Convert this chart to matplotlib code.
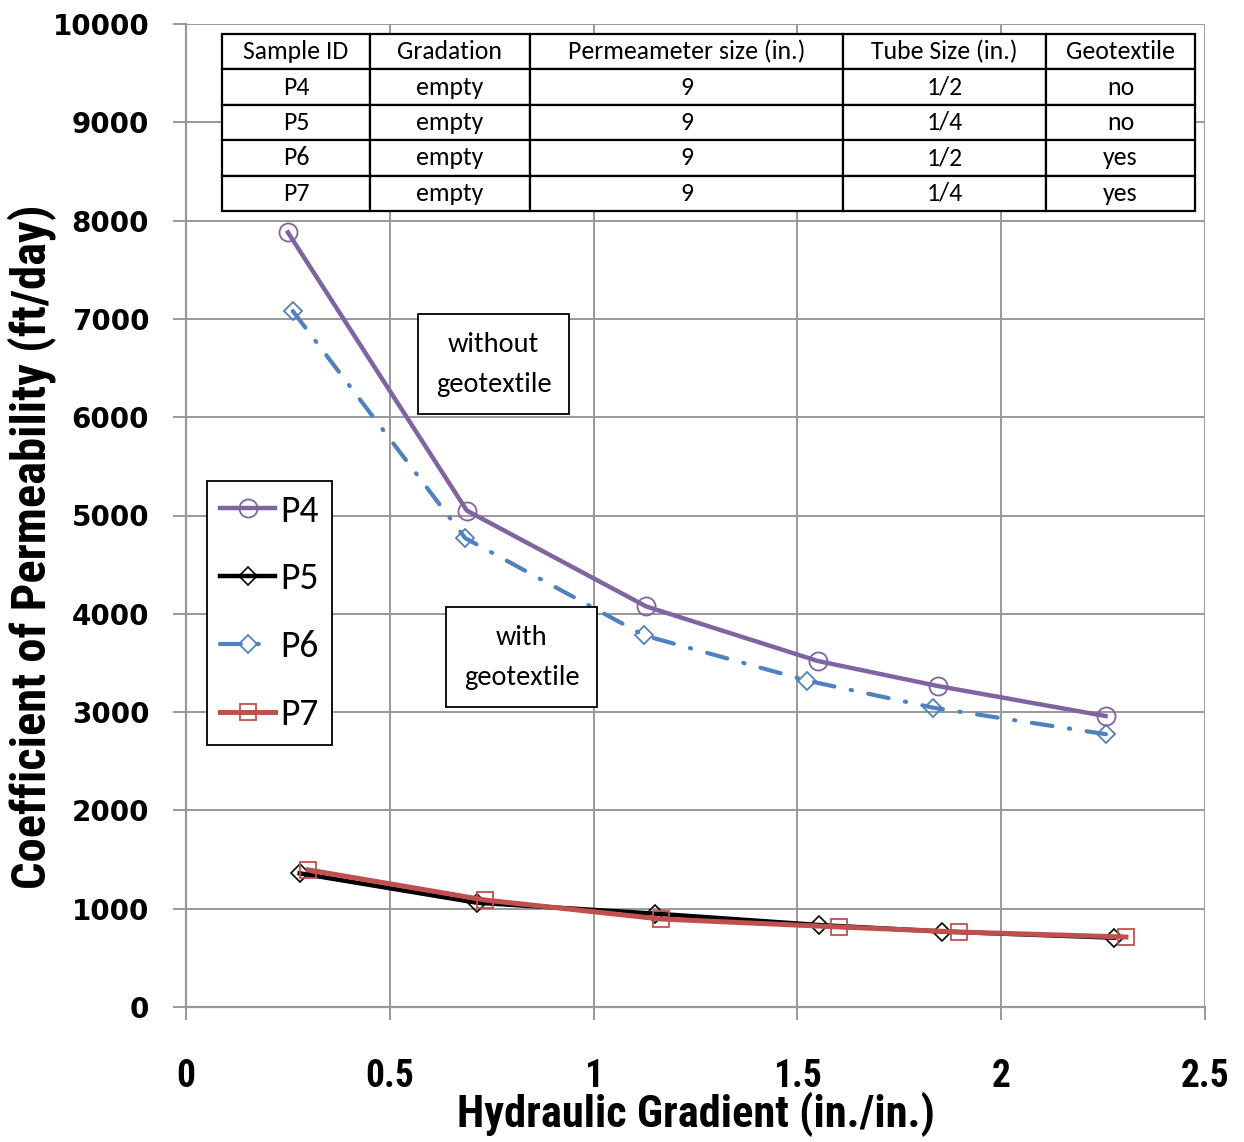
import matplotlib
matplotlib.use('Agg')
import matplotlib.pyplot as plt
from matplotlib import font_manager

# data
p4_x = [0.250, 0.689, 1.129, 1.550, 1.845, 2.256]
p4_y = [7880, 5050, 4075, 3520, 3265, 2960]
p5_x = [0.279, 0.715, 1.151, 1.553, 1.855, 2.277]
p5_y = [1360, 1060, 950, 834, 768, 705]
p6_x = [0.262, 0.685, 1.124, 1.524, 1.833, 2.257]
p6_y = [7080, 4770, 3780, 3320, 3045, 2775]
p7_x = [0.300, 0.734, 1.165, 1.602, 1.897, 2.306]
p7_y = [1395, 1088, 895, 814, 763, 712]

table_cols = ['Sample ID', 'Gradation', 'Permeameter size (in.)', 'Tube Size (in.)', 'Geotextile']
table_rows = [
    ['P4', 'empty', '9', '1/2', 'no'],
    ['P5', 'empty', '9', '1/4', 'no'],
    ['P6', 'empty', '9', '1/2', 'yes'],
    ['P7', 'empty', '9', '1/4', 'yes'],
]
col_widths = [148, 160, 313, 203, 149]

x_ticks = [0, 0.5, 1, 1.5, 2, 2.5]
x_ticklabels = ['0', '0.5', '1', '1.5', '2', '2.5']
y_ticks = list(range(0, 10001, 1000))


def pick_font(*names):
    installed = {f.name for f in font_manager.fontManager.ttflist}
    for name in names:
        if name in installed:
            return name
    return 'DejaVu Sans'


body_font = pick_font('Carlito', 'Lato', 'Open Sans')
narrow_font = pick_font('Liberation Sans Narrow', 'Roboto Condensed', 'Open Sans Condensed',
                        'Carlito', 'Lato')

grid_grey = '#999999'

fig = plt.figure(figsize=(12.44, 11.42), dpi=100)
ax = fig.add_axes([186 / 1244, 1 - 1007 / 1142, 1019 / 1244, 983 / 1142])

ax.plot(p6_x, p6_y, color='#4F81BD', lw=3, linestyle=(0, (5, 4, 0.3, 4)),
        dash_capstyle='round', marker='D', markersize=9, mfc='none', mec='#4F81BD',
        mew=1.3, label='P6', zorder=3)
ax.plot(p4_x, p4_y, color='#8064A2', lw=3.2, marker='o', markersize=13, mfc='none',
        mec='#8064A2', mew=1.3, label='P4', zorder=4)
ax.plot(p5_x, p5_y, color='black', lw=3.2, marker='D', markersize=9, mfc='none',
        mec='black', mew=1.2, label='P5', zorder=3)
ax.plot(p7_x, p7_y, color='#C0504D', lw=3.6, marker='s', markersize=11, mfc='none',
        mec='#C0504D', mew=1.3, label='P7', zorder=4)

ax.set_xlim(0, 2.5)
ax.set_ylim(0, 10000)
ax.set_xticks(x_ticks)
ax.set_xticklabels(x_ticklabels)
ax.set_yticks(y_ticks)
ax.grid(True, color=grid_grey, lw=1.4)
ax.set_axisbelow(True)
for side in ['top', 'right']:
    ax.spines[side].set_visible(False)
for side in ['left', 'bottom']:
    ax.spines[side].set_color(grid_grey)
    ax.spines[side].set_linewidth(1.6)
ax.tick_params(axis='both', direction='out', length=9.5, width=1.4, color=grid_grey)
ax.tick_params(axis='x', pad=27)
ax.tick_params(axis='y', pad=17)
for lab in ax.get_xticklabels():
    lab.set_fontfamily(narrow_font)
    lab.set_fontweight('bold')
    lab.set_fontsize(27)
for lab in ax.get_yticklabels():
    lab.set_fontfamily('DejaVu Sans')
    lab.set_fontweight('bold')
    lab.set_fontsize(20)

ax.set_xlabel('Hydraulic Gradient (in./in.)', fontsize=32, fontweight='bold',
              fontfamily=narrow_font)
ax.xaxis.set_label_coords(0.5, -0.086)
ax.set_ylabel('Coefficient of Permeability (ft/day)', fontsize=35, fontweight='bold',
              fontfamily=narrow_font)
ax.yaxis.set_label_coords(-0.128, 0.468)

# legend in P4..P7 order
handles, labels = ax.get_legend_handles_labels()
order = [labels.index(n) for n in ['P4', 'P5', 'P6', 'P7']]
leg = ax.legend([handles[i] for i in order], [labels[i] for i in order],
                loc='upper left', bbox_to_anchor=(0.0206, 0.535),
                prop={'family': body_font, 'size': 27}, fancybox=False,
                edgecolor='black', handlelength=1.45, handletextpad=0.15,
                labelspacing=0.93, borderpad=0.36, borderaxespad=0, framealpha=1)
leg.get_frame().set_linewidth(1.3)

box = dict(boxstyle='square,pad=0.62', facecolor='white', edgecolor='black', lw=1.3)
ax.text(0.755, 6540, 'without\ngeotextile', ha='center', va='center', fontsize=20.5,
        fontfamily=body_font, linespacing=1.75, bbox=box, zorder=5)
ax.text(0.824, 3560, 'with\ngeotextile', ha='center', va='center', fontsize=20.5,
        fontfamily=body_font, linespacing=1.75, bbox=box, zorder=5)

total_w = sum(col_widths)
tbl = ax.table(cellText=table_rows, colLabels=table_cols, cellLoc='center',
               colWidths=[w / total_w for w in col_widths],
               bbox=[0.0353, 0.8098, 0.9549, 0.18])
tbl.auto_set_font_size(False)
for (r, c), cell in tbl.get_celld().items():
    cell.set_linewidth(1.6)
    cell.set_edgecolor('black')
    cell.set_facecolor('white')
    cell.get_text().set_fontsize(18.5)
    cell.get_text().set_fontfamily(body_font)
tbl.set_zorder(6)

fig.savefig('out.png', dpi=100)
